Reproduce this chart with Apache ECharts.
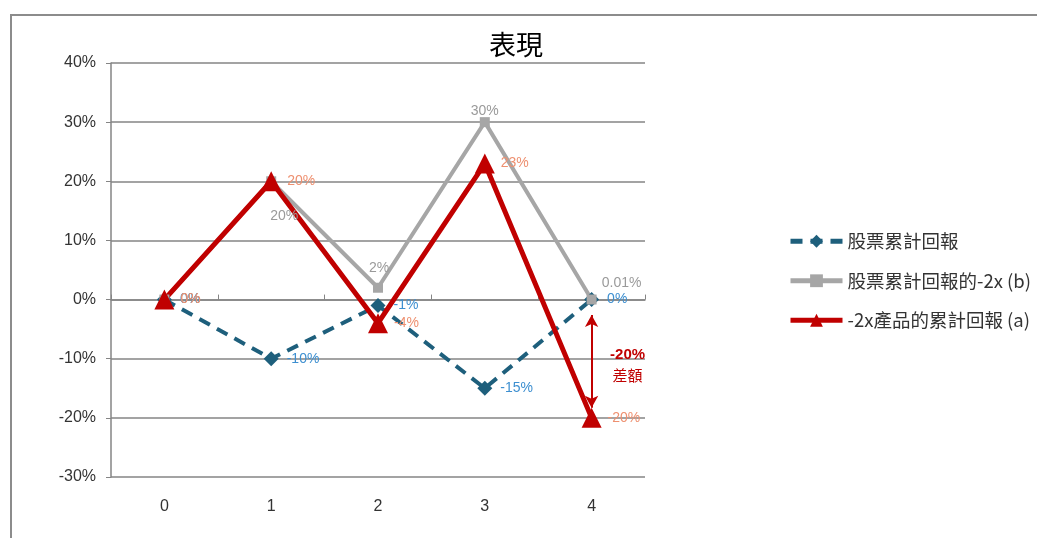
<!DOCTYPE html>
<html>
<head>
<meta charset="utf-8">
<style>
	html, body { margin: 0; padding: 0; background: #fff; overflow: hidden; }
	#frame { position: absolute; left: 10px; top: 14px; width: 1100px; height: 600px; border-left: 2px solid #8c8c8c; border-top: 2px solid #8c8c8c; }
	#chart { position: absolute; left: 0; top: 0; width: 1037px; height: 538px; }
</style>
<script src="https://cdn.jsdelivr.net/npm/echarts@6/dist/echarts.min.js"></script>
</head>
<body>
<div id="frame"></div>
<div id="chart"></div>
<script>
	const categories = ['0', '1', '2', '3', '4']
	const stockReturn = [0, -10, -1, -15, 0]           // 股票累計回報
	const stockMinus2x = [0, 20, 2, 30, 0.01]           // 股票累計回報的-2x (b)
	const productReturn = [0, 20, -4, 23, -20]          // -2x產品的累計回報 (a)
	const seriesNames = ['股票累計回報', '股票累計回報的-2x (b)', '-2x產品的累計回報 (a)']
	const diffLabel = ['-20%', '差額']

	const numFont = '"Liberation Sans", "Noto Sans CJK TC", sans-serif'
	const cjkFont = '"Noto Sans CJK TC", "Liberation Sans", sans-serif'

	const fmt = p => +Number(p.value).toFixed(2) + '%'

	// 灰線每個點的標籤位置
	const grayPos = [[26, 0], [13, 35], [1, -20], [0, -11], [30, -16]]

	const chart = echarts.init(document.getElementById('chart'))

	chart.setOption({
		animation: false,
		title: {
			text: '表現',
			left: 484,
			top: 26,
			textStyle: { fontFamily: cjkFont, fontSize: 27, fontWeight: 'normal', color: '#000' }
		},
		legend: {
			orient: 'vertical',
			left: 783,
			top: 227,
			itemWidth: 52,
			itemHeight: 16,
			itemGap: 21,
			data: seriesNames.map(n => ({ name: n, lineStyle: { width: 5 } })),
			textStyle: { fontFamily: cjkFont, fontSize: 18.5, color: '#333' }
		},
		grid: { left: 111, right: 392, top: 63, bottom: 61 },
		xAxis: [{
			type: 'category',
			data: categories,
			position: 'bottom',
			axisLine: { show: false, onZero: false },
			axisTick: { show: false },
			axisLabel: { fontFamily: numFont, fontSize: 16, color: '#333', margin: 22 }
		}, {
			type: 'category',
			data: categories,
			axisLine: { show: true, onZero: true, lineStyle: { color: '#858585', width: 1.5 } },
			axisTick: { show: true, length: 5, lineStyle: { color: '#858585' } },
			axisLabel: { show: false }
		}],
		yAxis: {
			type: 'value',
			min: -30,
			max: 40,
			interval: 10,
			axisLine: { show: true, lineStyle: { color: '#858585', width: 1.5 } },
			axisTick: { show: true, length: 5, lineStyle: { color: '#858585' } },
			axisLabel: { formatter: '{value}%', fontFamily: numFont, fontSize: 16, color: '#333', margin: 15 },
			splitLine: { lineStyle: { color: '#858585', width: 1.5 } }
		},
		series: [{
			name: seriesNames[0],
			type: 'line',
			data: stockReturn,
			symbol: 'diamond',
			symbolSize: 15,
			itemStyle: { color: '#1e5f7c' },
			lineStyle: { color: '#1e5f7c', width: 4, type: [12, 8] },
			label: {
				show: true, position: 'right', distance: 8, formatter: fmt,
				fontFamily: numFont, fontSize: 14, color: '#3d8fd0'
			}
		}, {
			name: seriesNames[1],
			type: 'line',
			data: stockMinus2x.map((v, i) => ({ value: v, label: { offset: grayPos[i] } })),
			symbol: 'rect',
			symbolSize: 10,
			itemStyle: { color: '#a6a6a6' },
			lineStyle: { color: '#a6a6a6', width: 4 },
			label: {
				show: true, position: 'inside', formatter: fmt,
				fontFamily: numFont, fontSize: 14, color: '#9a9a9a'
			}
		}, {
			name: seriesNames[2],
			type: 'line',
			data: productReturn,
			symbol: 'triangle',
			symbolSize: 20,
			itemStyle: { color: '#c00000' },
			lineStyle: { color: '#c00000', width: 5 },
			label: {
				show: true, position: 'right', distance: 6, formatter: fmt,
				fontFamily: numFont, fontSize: 14, color: '#ee9070'
			},
			markLine: {
				silent: true,
				symbol: ['arrow', 'arrow'],
				symbolSize: [10, 12],
				label: { show: false },
				lineStyle: { color: '#c00000', width: 2, type: 'solid' },
				data: [[{ coord: [4, -2.6] }, { coord: [4, -18.3] }]]
			}
		}]
	})

	// 差額說明文字，位置由座標軸換算
	const p = chart.convertToPixel({ gridIndex: 0 }, [4, -10])
	chart.setOption({
		graphic: [{
			type: 'text',
			x: p[0] + 36,
			y: p[1] - 4,
			style: {
				text: diffLabel[0], fill: '#c00000', align: 'center', verticalAlign: 'middle',
				font: 'bold 15px "Liberation Sans", sans-serif'
			}
		}, {
			type: 'text',
			x: p[0] + 36,
			y: p[1] + 17,
			style: {
				text: diffLabel[1], fill: '#c00000', align: 'center', verticalAlign: 'middle',
				font: '15px "Noto Sans CJK TC", sans-serif'
			}
		}]
	})
</script>
</body>
</html>
